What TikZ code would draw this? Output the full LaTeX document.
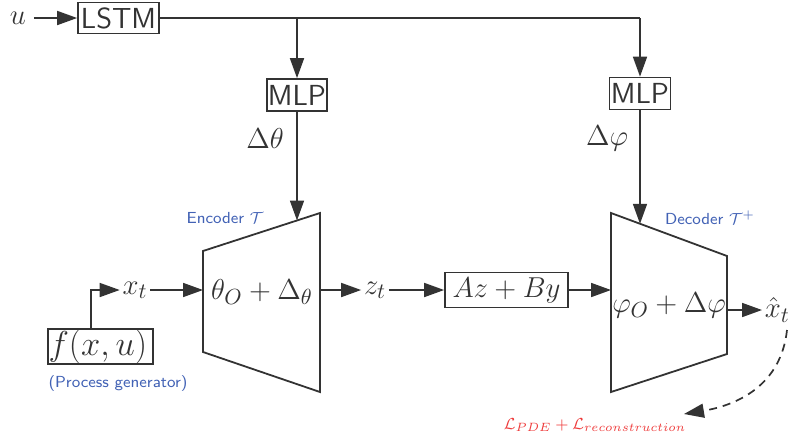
\documentclass[tikz,border=0pt]{standalone}
\usetikzlibrary{arrows.meta}
\definecolor{ink}{HTML}{333333}
\definecolor{lblue}{HTML}{4262B5}
\definecolor{lred}{HTML}{EE3B3B}
\begin{document}
\begin{tikzpicture}[x=0.5pt,y=-0.5pt,
  line width=0.85pt, color=ink,
  arr/.style={-{Triangle[length=10pt,width=7pt]}},
  sfbox/.style={draw=ink, inner sep=0pt, font=\sffamily\fontsize{14.5}{16}\selectfont, text=ink},
  mathbox/.style={draw=ink, inner sep=0pt, text=ink},
  mlab/.style={inner sep=1pt, font=\fontsize{15}{17}\selectfont, text=ink},
  bluelab/.style={inner sep=0pt, font=\sffamily\fontsize{8}{9}\selectfont, text=lblue},
  trap/.style={draw=ink, line width=0.9pt}]
\useasboundingbox (0,0) rectangle (792,435);

% top row
\node[mlab] (u) at (18,18) {$u$};
\node[sfbox, minimum width=40.5pt, minimum height=15.5pt] (lstm) at (118.5,18) {LSTM};
\node[sfbox, minimum width=30pt, minimum height=16pt] (mlp1) at (297,95) {MLP};
\node[sfbox, minimum width=30.5pt, minimum height=16pt] (mlp2) at (640,93.5) {MLP};
\coordinate (b1) at (297,18);
\coordinate (b2) at (640,18);
\draw[arr] (u.east) ++(5,0) -- (lstm.west);
\draw (lstm.east) -- (b2);
\draw[arr] (b1) -- (mlp1.north);
\draw[arr] (b2) -- (mlp2.north);

\node[mlab] (dth) at (265,138) {$\Delta\theta$};
\node[mlab] (dph) at (607,138) {$\Delta\varphi$};

% encoder
\draw[trap] (203,251) -- (320,213) -- (320,392) -- (203,352) -- cycle;
\node[mlab] (enc) at (262,292) {$\theta_O+\Delta_\theta$};
\coordinate (encTop) at (297,220.5);
\coordinate (encIn) at (203,290);
\coordinate (encOut) at (320,290);
\node[bluelab] (enclab) at (225,218) {Encoder $\mathcal{T}$};

% decoder
\draw[trap] (611,213) -- (727,256) -- (727,354) -- (611,392) -- cycle;
\node[mlab] (dec) at (669,305) {$\varphi_O+\Delta\varphi$};
\coordinate (decTop) at (640,223.8);
\coordinate (decIn) at (611,290);
\coordinate (decOut) at (727,310);
\node[bluelab] (declab) at (710,218) {Decoder $\mathcal{T}^{+}$};

\draw[arr] (mlp1.south) -- (encTop);
\draw[arr] (mlp2.south) -- (decTop);

% middle row
\node[mathbox, minimum width=52.5pt, minimum height=16.5pt, font=\fontsize{16}{18}\selectfont] (f) at (100.5,346.5) {$f(x,u)$\,};
\node[bluelab] (pg) at (118,383) {(Process generator)};
\node[mlab] (xt) at (135,290) {$x_t$};
\coordinate (fup) at (91,290);
\draw[arr] (f.north -| fup) -- (fup) -- (xt.west);
\draw[arr] (xt.east) -- (encIn);
\node[mlab] (zt) at (375,290) {$z_t$};
\draw[arr] (encOut) -- (zt.west);
\node[mathbox, minimum width=61.5pt, minimum height=17.5pt, font=\fontsize{15.5}{17}\selectfont] (ab) at (506.5,290) {$Az+By$};
\draw[arr] (zt.east) -- (ab.west);
\draw[arr] (ab.east) -- (decIn);

\node[mlab, anchor=west] (xh) at (762,310) {$\hat{x}_t$};
\draw[arr] (decOut) -- (xh.west);

\node[inner sep=0pt, text=lred, font=\fontsize{8}{9}\selectfont] (loss) at (595,425) {$\mathcal{L}_{PDE}+\mathcal{L}_{reconstruction}$};
\draw[arr, dashed, dash pattern=on 4pt off 3pt] (787,330) .. controls (781,385) and (738,405) .. (684,414);
\end{tikzpicture}
\end{document}
